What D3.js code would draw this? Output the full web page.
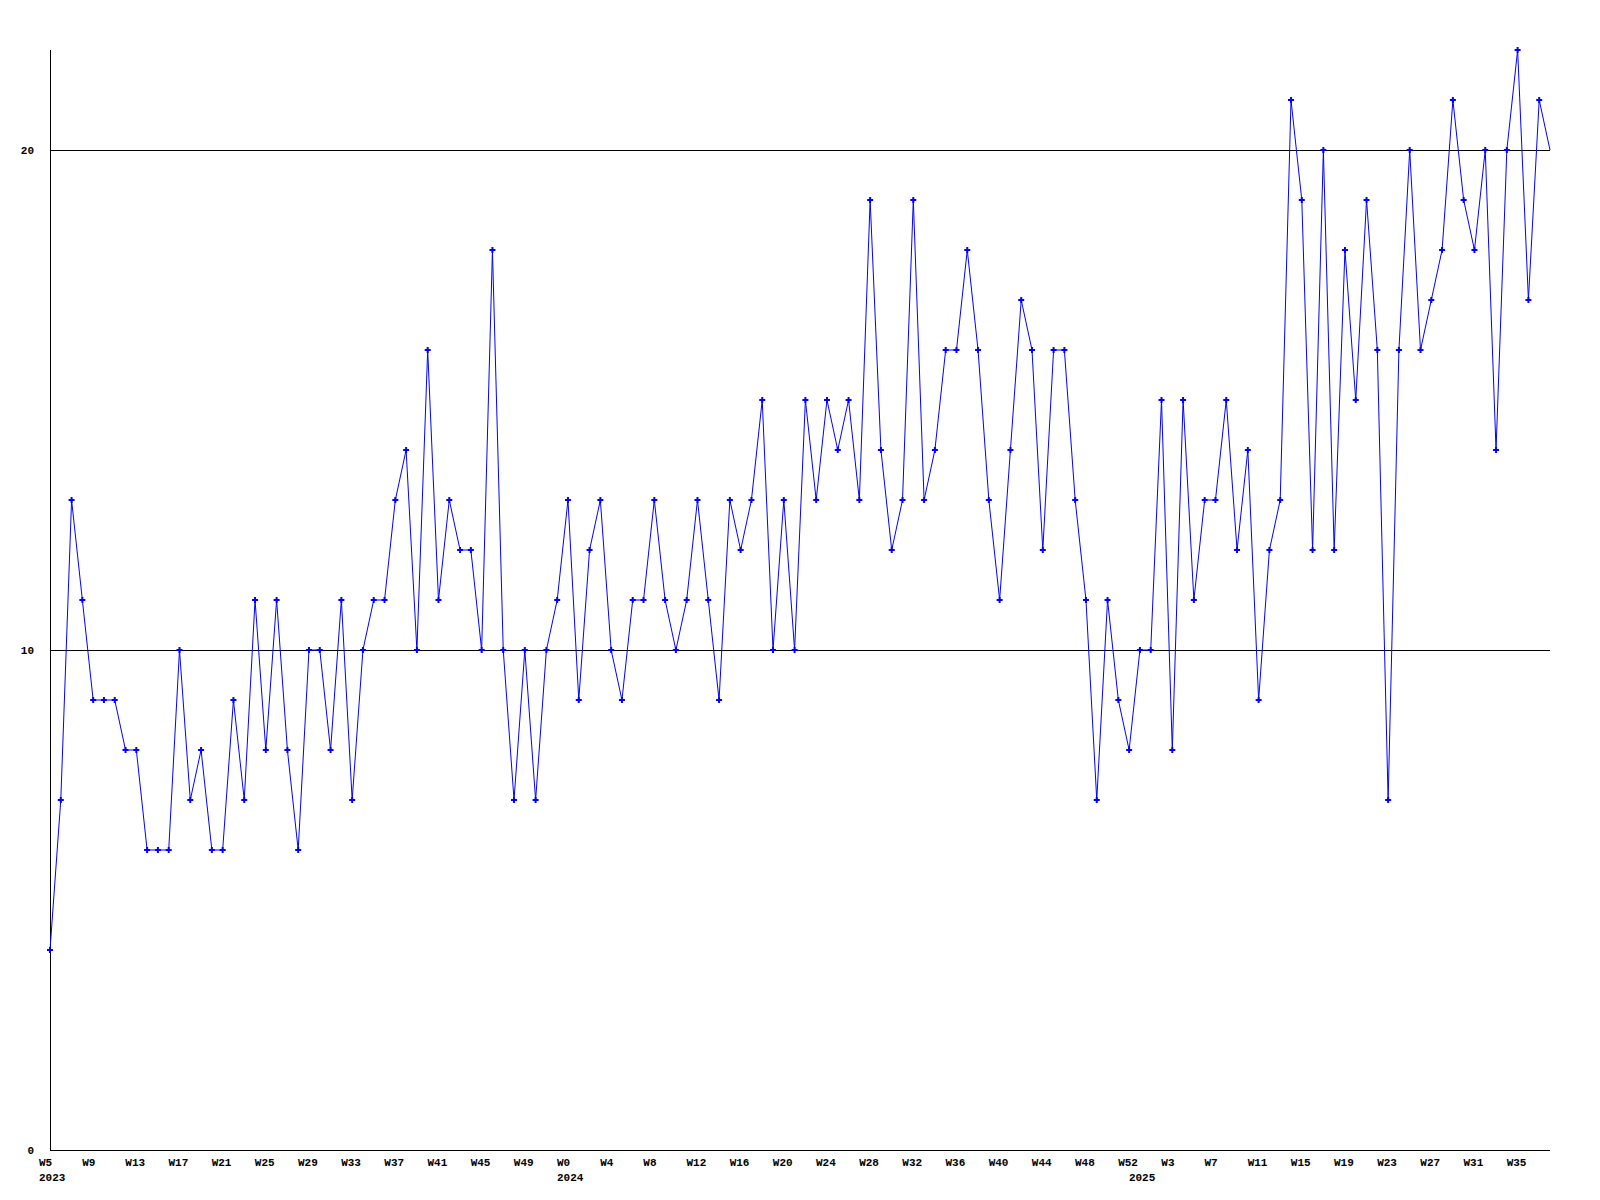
<!DOCTYPE html>
<html>
<head>
<meta charset="utf-8">
<script src="https://cdn.jsdelivr.net/npm/d3@7"></script>
<style>
  html, body { margin: 0; padding: 0; background: #fff; }
  svg { display: block; }
  text { font-family: "Liberation Mono", "DejaVu Sans Mono", monospace; font-weight: bold; font-size: 11px; fill: #000; }
</style>
</head>
<body>
<svg id="chart" width="1600" height="1200"></svg>
<script>
// ---- data ----
const years = [2023, 2024, 2025];
const weeks2023 = d3.range(5, 53);   // W5..W52
const weeks2024 = d3.range(0, 53);   // W0..W52
const weeks2025 = d3.range(0, 39);   // W0..W38
const values = [
  4, 7, 13, 11, 9, 9, 9, 8, 8, 6, 6, 6, 10, 7, 8, 6, 6, 9, 7, 11,
  8, 11, 8, 6, 10, 10, 8, 11, 7, 10, 11, 11, 13, 14, 10, 16, 11, 13, 12, 12,
  10, 18, 10, 7, 10, 7, 10, 11,
  13, 9, 12, 13, 10, 9, 11, 11, 13, 11, 10, 11, 13, 11, 9, 13, 12, 13, 15, 10,
  13, 10, 15, 13, 15, 14, 15, 13, 19, 14, 12, 13, 19, 13, 14, 16, 16, 18, 16, 13,
  11, 14, 17, 16, 12, 16, 16, 13, 11, 7, 11, 9, 8,
  10, 10, 15, 8, 15, 11, 13, 13, 15, 12, 14, 9, 12, 13, 21, 19, 12, 20, 12, 18,
  15, 19, 16, 7, 16, 20, 16, 17, 18, 21, 19, 18, 20, 14, 20, 22, 17, 21, 20
];
const yTicks = [0, 10, 20];
const tickEvery = 4;

// ---- build categories ----
const categories = [];
weeks2023.forEach(w => categories.push({ year: 2023, week: w }));
weeks2024.forEach(w => categories.push({ year: 2024, week: w }));
weeks2025.forEach(w => categories.push({ year: 2025, week: w }));
const data = categories.map((c, i) => ({ ...c, i, value: values[i] }));

// ---- layout ----
const W = 1600, H = 1200;
const margin = { left: 50, right: 50, top: 50, bottom: 50 };
const svg = d3.select("#chart");

const x = d3.scaleLinear().domain([0, data.length - 1]).range([margin.left, W - margin.right]);
const y = d3.scaleLinear().domain([0, 22]).range([H - margin.bottom, margin.top]);

// gridlines (10, 20)
svg.append("g").selectAll("line").data(yTicks.filter(t => t > 0)).join("line")
  .attr("x1", margin.left).attr("x2", W - margin.right)
  .attr("y1", d => Math.round(y(d)) + 0.5).attr("y2", d => Math.round(y(d)) + 0.5)
  .attr("stroke", "#000").attr("stroke-width", 1);

// axes lines
svg.append("line")
  .attr("x1", margin.left + 0.5).attr("x2", margin.left + 0.5)
  .attr("y1", margin.top).attr("y2", H - margin.bottom + 0.5)
  .attr("stroke", "#000");
svg.append("line")
  .attr("x1", margin.left).attr("x2", W - margin.right)
  .attr("y1", H - margin.bottom + 0.5).attr("y2", H - margin.bottom + 0.5)
  .attr("stroke", "#000");

// y labels
svg.append("g").selectAll("text").data(yTicks).join("text")
  .attr("x", 34).attr("y", d => y(d) + 3.5)
  .attr("text-anchor", "end")
  .text(d => d);

// x tick labels
const tickData = data.filter(d => d.i % tickEvery === 0);
svg.append("g").selectAll("text").data(tickData).join("text")
  .attr("x", d => x(d.i) - 11).attr("y", H - margin.bottom + 16)
  .text(d => "W" + d.week);

// year labels at first point of each year
const yearData = years.map(yr => data.find(d => d.year === yr));
svg.append("g").selectAll("text").data(yearData).join("text")
  .attr("x", d => x(d.i) - 11).attr("y", H - margin.bottom + 31)
  .text(d => d.year);

// line
const line = d3.line().x(d => x(d.i)).y(d => y(d.value));
svg.append("path").datum(data)
  .attr("d", line).attr("fill", "none")
  .attr("stroke", "#0000ff").attr("stroke-width", 1);

// markers (all but last)
const sym = d3.symbol().type(d3.symbolCross).size(20);
svg.append("g").selectAll("path").data(data.slice(0, -1)).join("path")
  .attr("transform", d => `translate(${x(d.i)},${y(d.value)})`)
  .attr("d", sym).attr("fill", "#0000ff");
</script>
</body>
</html>
